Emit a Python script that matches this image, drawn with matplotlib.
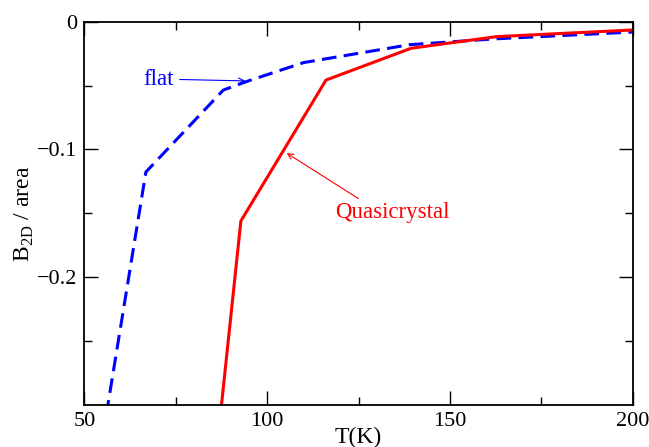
import matplotlib
matplotlib.use("Agg")
import matplotlib.pyplot as plt
import numpy as np

# data
flat_T = [55.0, 66.8, 88.0, 95.0, 110.0, 139.0, 162.0, 200.0]
flat_B = [-0.3245, -0.1177, -0.0535, -0.0462, -0.0320, -0.0180, -0.0135, -0.0081]

quasi_T = [86.5, 92.8, 116.1, 139.4, 162.8, 200.0]
quasi_B = [-0.327, -0.156, -0.0457, -0.0208, -0.0117, -0.0065]

x_ticks = [50, 100, 150, 200]
y_ticks = [0, -0.1, -0.2]
y_tick_labels = ["0", "\u22120.1", "\u22120.2"]

plt.rcParams['font.family'] = ['Liberation Serif', 'DejaVu Serif']
plt.rcParams['mathtext.fontset'] = 'custom'
plt.rcParams['mathtext.rm'] = 'Liberation Serif'

fig = plt.figure(figsize=(6.49, 4.47), dpi=100, facecolor='white')
ax = fig.add_axes([0.1302, 0.094, 0.8444, 0.8575])

ax.plot(flat_T, flat_B, color='#0000ff', linewidth=2.2, linestyle=(0, (4.8, 2.4)))
ax.plot(quasi_T, quasi_B, color='#ff0000', linewidth=2.2)

ax.set_xlim(50, 200)
ax.set_ylim(-0.3, 0)
ax.set_xticks(x_ticks)
ax.set_xticks([75, 125, 175], minor=True)
ax.set_yticks(y_ticks)
ax.set_yticklabels(y_tick_labels)
ax.set_yticks([-0.05, -0.15, -0.25], minor=True)

ax.tick_params(which='both', direction='in', top=True, right=True,
               labelsize=16, width=1.0, pad=5)
ax.tick_params(which='major', length=10)
ax.tick_params(which='minor', length=6)
for sp in ax.spines.values():
    sp.set_linewidth(1.3)

ax.set_xlabel('T(K)', fontsize=17)
ax.xaxis.set_label_coords(0.5, -0.058)
ax.set_ylabel(r'B$_{\mathrm{2D}}$ / area', fontsize=17, labelpad=1)

# annotations
ax.annotate('', xy=(94.8, -0.0464), xytext=(75.3, -0.0452),
            arrowprops=dict(arrowstyle='->', color='#0000ff', lw=0.8))
ax.text(74.4, -0.0452, 'flat', color='#0000ff', fontsize=16.5,
        ha='right', va='center')

ax.annotate('', xy=(104.7, -0.1017), xytext=(125.6, -0.1396),
            arrowprops=dict(arrowstyle='->', color='#ff0000', lw=0.8))
ax.text(118.6, -0.1495, 'Quasicrystal', color='#ff0000', fontsize=16.5,
        ha='left', va='center')

fig.savefig('out.png', dpi=100)
